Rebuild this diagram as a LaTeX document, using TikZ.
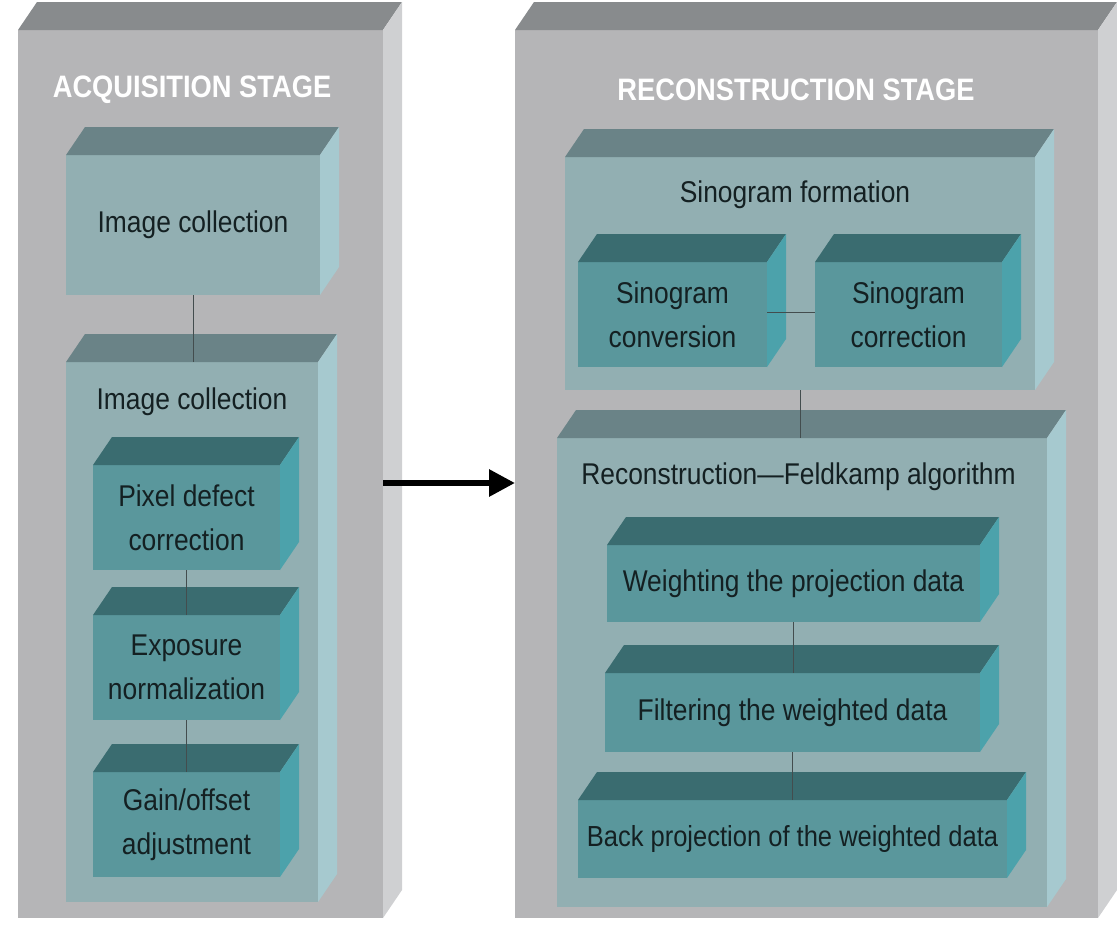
\documentclass[tikz,border=0pt]{standalone}
\usepackage{fontspec}
\setmainfont{Liberation Sans}[FakeStretch=0.88]
\usetikzlibrary{arrows.meta, positioning, calc}

\definecolor{stageFront}{RGB}{181,181,183}
\definecolor{stageTop}{RGB}{136,139,141}
\definecolor{stageSide}{RGB}{207,208,210}
\definecolor{groupFront}{RGB}{146,175,178}
\definecolor{groupTop}{RGB}{106,131,135}
\definecolor{groupSide}{RGB}{166,201,207}
\definecolor{stepFront}{RGB}{90,151,156}
\definecolor{stepTop}{RGB}{58,108,112}
\definecolor{stepSide}{RGB}{76,162,171}
\definecolor{ink}{RGB}{20,32,34}

% top and right faces of a box whose front face is node #1
\newcommand{\boxfaces}[3]{%
	\fill[#2] (#1.north west) -- ++(19,-28) -- ($(#1.north east)+(19,-28)$) -- (#1.north east) -- cycle;
	\fill[#3] (#1.north east) -- ++(19,-28) -- ($(#1.south east)+(19,-28)$) -- (#1.south east) -- cycle;
}

\begin{document}
\begin{tikzpicture}[
				x=1pt, y=-1pt,
				% faces avant des blocs
				stage/.style={fill=stageFront, rectangle, inner sep=0pt, outer sep=0pt},
				group/.style={fill=groupFront, rectangle, inner sep=0pt, outer sep=0pt, text=ink, font=\fontsize{30}{44}\selectfont},
				stepbox/.style={fill=stepFront, rectangle, inner sep=0pt, outer sep=0pt, text=ink, align=center, font=\fontsize{30}{44}\selectfont},
				stageTitle/.style={text=white, font=\bfseries\fontsize{31}{36}\selectfont},
				groupTitle/.style={text=ink, font=\fontsize{30}{36}\selectfont},
				link/.style={draw=ink!80, line width=1pt},
				flow/.style={-{Triangle[length=26pt, width=26pt]}, line width=6pt, black},
				]
				
				\useasboundingbox (0,0) rectangle (1117,929);
				
				% Acquisition
				\node[stage, minimum width=365pt, minimum height=888pt] (acq) at (200.5,474) {};
				\boxfaces{acq}{stageTop}{stageSide}
				\node[stageTitle] (acqTitle) at (192,90) {ACQUISITION STAGE};
				
				\node[group, minimum width=254pt, minimum height=140pt] (imgA) at (193,225) {Image collection};
				\boxfaces{imgA}{groupTop}{groupSide}
				
				\node[group, minimum width=252pt, minimum height=540pt] (imgB) at (192,632) {};
				\boxfaces{imgB}{groupTop}{groupSide}
				\node[groupTitle] (imgBTitle) at (192,402) {Image collection};
				
				\node[stepbox, minimum width=187pt, minimum height=105pt] (pix) at (186.5,517.5) {Pixel defect\\correction};
				\boxfaces{pix}{stepTop}{stepSide}
				\node[stepbox, minimum width=187pt, minimum height=105pt] (expo) at (186.5,667.5) {Exposure\\normalization};
				\boxfaces{expo}{stepTop}{stepSide}
				\node[stepbox, minimum width=187pt, minimum height=105pt] (gain) at (186.5,824.5) {Gain/offset\\adjustment};
				\boxfaces{gain}{stepTop}{stepSide}
				
				\draw[link] (imgA.south) -- (imgA.south |- imgB.north);
				\draw[link] (pix.south) -- (expo.north);
				\draw[link] (expo.south) -- (gain.north);
				
				% Reconstruction
				\node[stage, minimum width=583pt, minimum height=888pt] (rec) at (806.5,474) {};
				\boxfaces{rec}{stageTop}{stageSide}
				\node[stageTitle] (recTitle) at (796,90) {RECONSTRUCTION STAGE};
				
				\node[group, minimum width=470pt, minimum height=233pt] (sino) at (800,273.5) {};
				\boxfaces{sino}{groupTop}{groupSide}
				\node[groupTitle] (sinoTitle) at (795,195) {Sinogram formation};
				
				\node[stepbox, minimum width=189pt, minimum height=105pt] (sconv) at (672.5,314.5) {Sinogram\\conversion};
				\boxfaces{sconv}{stepTop}{stepSide}
				\node[stepbox, minimum width=187pt, minimum height=105pt] (scorr) at (908.5,314.5) {Sinogram\\correction};
				\boxfaces{scorr}{stepTop}{stepSide}
				
				\node[group, minimum width=490pt, minimum height=469pt] (feld) at (802,672.5) {};
				\boxfaces{feld}{groupTop}{groupSide}
				\node[groupTitle] (feldTitle) at (798.5,477) {Reconstruction---Feldkamp algorithm};
				
				\node[stepbox, minimum width=373pt, minimum height=77pt] (weight) at (793.5,583.5) {Weighting the projection data};
				\boxfaces{weight}{stepTop}{stepSide}
				\node[stepbox, minimum width=375pt, minimum height=79pt] (filt) at (792.5,712.5) {Filtering the weighted data};
				\boxfaces{filt}{stepTop}{stepSide}
				\node[stepbox, minimum width=429pt, minimum height=78pt, font=\fontsize{29}{44}\selectfont] (back) at (792.5,839) {Back projection of the weighted data};
				\boxfaces{back}{stepTop}{stepSide}
				
				\draw[link] ([yshift=2pt]sconv.east) -- ([yshift=2pt]scorr.west);
				\draw[link] (sino.south) -- (sino.south |- feld.north);
				\draw[link] (weight.south) -- (weight.south |- filt.north);
				\draw[link] (filt.south) -- (back.north);
				
				% passage d'une etape a l'autre
				\draw[flow] ([yshift=-9pt]acq.east) -- ([yshift=-9pt]rec.west);
				
			\end{tikzpicture}
\end{document}
